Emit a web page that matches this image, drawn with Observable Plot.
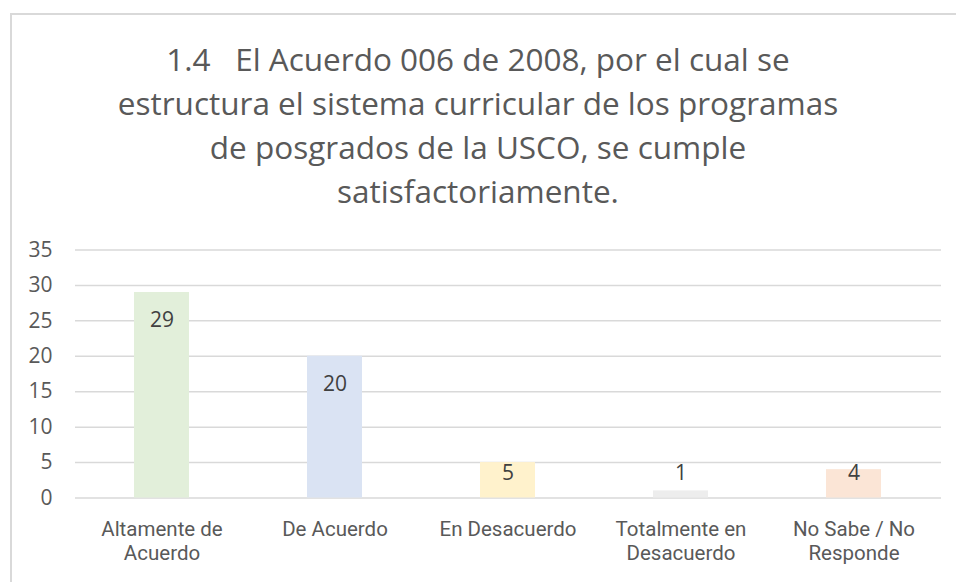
<!DOCTYPE html>
<html>
<head>
<meta charset="utf-8">
<script src="https://cdn.jsdelivr.net/npm/d3@7"></script>
<script src="https://cdn.jsdelivr.net/npm/@observablehq/plot@0.6"></script>
<style>
  html, body { margin: 0; padding: 0; background: #fff; width: 956px; height: 582px; overflow: hidden; }
  #frame { position: absolute; left: 10px; top: 13px; width: 1000px; height: 700px; border: 2px solid #d9d9d9; box-sizing: border-box; }
  #title { position: absolute; left: 0; top: 37px; width: 956px; text-align: center; font-family: "Open Sans", sans-serif; font-size: 31.5px; line-height: 44px; color: #595959; white-space: pre; }
  #chart { position: absolute; left: 0; top: 230px; }
</style>
</head>
<body>
<div id="frame"></div>
<div id="title"></div>
<div id="chart"></div>
<script>
const titleLines = [
  "1.4   El Acuerdo 006 de 2008, por el cual se",
  "estructura el sistema curricular de los programas",
  "de posgrados de la USCO, se cumple",
  "satisfactoriamente."
];
const categories = ["Altamente de Acuerdo", "De Acuerdo", "En Desacuerdo", "Totalmente en Desacuerdo", "No Sabe / No Responde"];
const categoryLines = [["Altamente de", "Acuerdo"], ["De Acuerdo"], ["En Desacuerdo"], ["Totalmente en", "Desacuerdo"], ["No Sabe / No", "Responde"]];
const values = [29, 20, 5, 1, 4];
const colors = ["#E2EFDA", "#DAE3F3", "#FFF2CC", "#EDEDED", "#FBE5D6"];
const yTicks = [0, 5, 10, 15, 20, 25, 30, 35];

document.getElementById("title").textContent = titleLines.join("\n");

const data = categories.map((c, i) => ({cat: c, value: values[i], color: colors[i], label: categoryLines[i].join("\n")}));
const labelMap = new Map(data.map(d => [d.cat, d.label]));

const chart = Plot.plot({
  width: 956,
  height: 352,
  marginLeft: 75,
  marginRight: 15,
  marginTop: 19.5,
  marginBottom: 84.5,
  style: {fontFamily: "Open Sans, sans-serif", fontSize: "20px", color: "#595959", background: "transparent"},
  x: {domain: categories, paddingInner: 0.68, paddingOuter: 0.34, label: null},
  y: {domain: [0, 35], ticks: yTicks, label: null},
  marks: [
    Plot.ruleY(yTicks, {stroke: "#d9d9d9", strokeWidth: 1.5}),
    Plot.barY(data, {x: "cat", y: "value", fill: "color"}),
    Plot.text(data.filter(d => d.value >= 10), {x: "cat", y: "value", text: d => String(d.value), dy: 28, fill: "#404040", fontSize: 21}),
    Plot.text(data.filter(d => d.value < 10), {x: "cat", y: () => 5, text: d => String(d.value), dy: 11, fill: "#404040", fontSize: 21}),
    Plot.axisY({ticks: yTicks, tickSize: 0, tickPadding: 23, fontSize: 21, fill: "#595959"}),
    Plot.axisX({tickSize: 0, tickPadding: 21, fontSize: 20.5, fontFamily: "Roboto, sans-serif", fill: "#595959", lineHeight: 1.18, tickFormat: c => labelMap.get(c)})
  ]
});
document.getElementById("chart").appendChild(chart);
</script>
</body>
</html>
